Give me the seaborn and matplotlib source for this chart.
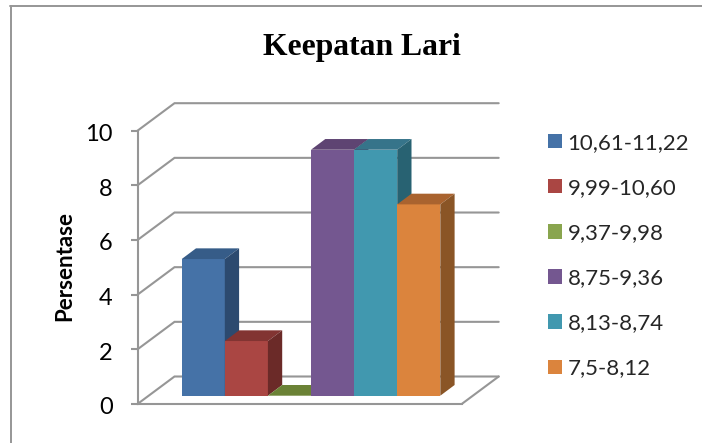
import matplotlib
matplotlib.use("Agg")
import matplotlib.pyplot as plt
from matplotlib.lines import Line2D
from matplotlib.patches import Patch, Polygon
from matplotlib.transforms import ScaledTranslation
import seaborn as sns
import pandas as pd

categories = ["10,61-11,22", "9,99-10,60", "9,37-9,98", "8,75-9,36", "8,13-8,74", "7,5-8,12"]
values = [5, 2, 0, 9, 9, 7]
y_ticks = [0, 2, 4, 6, 8, 10]
title = "Keepatan Lari"
y_label = "Persentase"

front_colors = ["#4572A7", "#AA4643", "#89A54E", "#745790", "#4198AF", "#DB843D"]
top_colors = ["#365C88", "#823432", "#6B8236", "#5E4472", "#36748A", "#A9632F"]
side_colors = ["#2C4A6F", "#6B2A28", "#55692B", "#4A3659", "#286272", "#8A5526"]
GREY = "#969696"

W, H = 702, 443
PX_CAT = 43.1      # pixels per category
PX_UNIT = 27.33    # pixels per value unit
BAR_X0, BAR_Y0 = 181.7, 395.7

sns.set_theme(style="white")
plt.rcParams["font.family"] = ["Lato", "DejaVu Sans"]
fig = plt.figure(figsize=(W / 100, H / 100), dpi=100, facecolor="white")

# full-figure axes: category/value coordinates anchored to the bars' front plane
ax = fig.add_axes([0, 0, 1, 1])
df = pd.DataFrame({"cat": categories, "val": values})
sns.barplot(data=df, x="cat", y="val", hue="cat", order=categories, hue_order=categories,
            palette=front_colors, saturation=1, width=1, dodge=False, legend=False,
            linewidth=0, ax=ax)
ax.set_xlim(-0.5 - BAR_X0 / PX_CAT, -0.5 + (W - BAR_X0) / PX_CAT)
ax.set_ylim((BAR_Y0 - H) / PX_UNIT, BAR_Y0 / PX_UNIT)
ax.axis("off")

# oblique depth of the chart box and of the bars, in data units
box_dx, box_dy = 37 / PX_CAT, 27.5 / PX_UNIT
bar_dx, bar_dy = 14.3 / PX_CAT, 10.7 / PX_UNIT
front_left = -0.5 + (137.5 - BAR_X0) / PX_CAT
front_right = -0.5 + (461.7 - BAR_X0) / PX_CAT
floor = (BAR_Y0 - 404) / PX_UNIT

for t in range(0, 12, 2):
    y = floor + t
    ax.plot([front_left, front_left + box_dx, front_right + box_dx],
            [y, y + box_dy, y + box_dy], color=GREY, lw=1.5, zorder=1, solid_joinstyle="miter")
ax.plot([front_right, front_right + box_dx], [floor, floor + box_dy], color=GREY, lw=1.5, zorder=1)

for i, (bar, v) in enumerate(zip(ax.patches, values)):
    x0, x1 = bar.get_x(), bar.get_x() + bar.get_width()
    bar.set_zorder(3 + i)
    ax.add_patch(Polygon([(x0, v), (x1, v), (x1 + bar_dx, v + bar_dy), (x0 + bar_dx, v + bar_dy)],
                         closed=True, fc=top_colors[i], ec="none", zorder=3 + i))
    ax.add_patch(Polygon([(x1, 0), (x1 + bar_dx, bar_dy), (x1 + bar_dx, v + bar_dy), (x1, v)],
                         closed=True, fc=side_colors[i], ec="none", zorder=3 + i))

# value axis: the front edge of the chart box
axv = fig.add_axes([137.5 / W, (H - 404) / H, (461.7 - 137.5) / W, (404 - 130.7) / H])
axv.patch.set_alpha(0)
axv.set_ylim(0, 10)
axv.set_xlim(0, 1)
axv.set_xticks([])
axv.set_yticks(y_ticks)
axv.set_yticklabels([str(t) for t in y_ticks], fontsize=17, color="black")
axv.tick_params(axis="y", length=5.4, width=1.5, color=GREY, left=True, pad=12.5)
shift = ScaledTranslation(0, -1.7 / 100, fig.dpi_scale_trans)
for lab in axv.get_yticklabels():
    lab.set_transform(lab.get_transform() + shift)
for s in ["top", "right"]:
    axv.spines[s].set_visible(False)
for s in ["left", "bottom"]:
    axv.spines[s].set_color(GREY)
    axv.spines[s].set_linewidth(1.5)
axv.spines["bottom"].set_bounds(0, 1)

fig.text(65 / W, 1 - 266 / H, y_label, rotation=90, ha="center", va="center",
         fontsize=16, fontweight="bold", color="black")
fig.text(362 / W, 1 - 55 / H, title, ha="center", va="baseline", fontsize=22.8,
         fontweight="bold", family="Liberation Serif", color="black")

handles = [Patch(fc=c, ec="none") for c in front_colors]
fig.legend(handles, categories, loc="upper left", bbox_to_anchor=(548 / W, 1 - 133 / H),
           borderaxespad=0, borderpad=0, frameon=False, fontsize=16,
           handlelength=0.62, handleheight=0.62, handletextpad=0.26, labelspacing=1.13)

# outer chart frame: only top and left edges are in view
fig.add_artist(Line2D([10.5 / W, 10.5 / W], [0, 1 - 6 / H], color=GREY, lw=1.4, transform=fig.transFigure))
fig.add_artist(Line2D([10 / W, 1], [1 - 6 / H, 1 - 6 / H], color=GREY, lw=1.4, transform=fig.transFigure))

fig.savefig("out.png", dpi=100, facecolor="white")
